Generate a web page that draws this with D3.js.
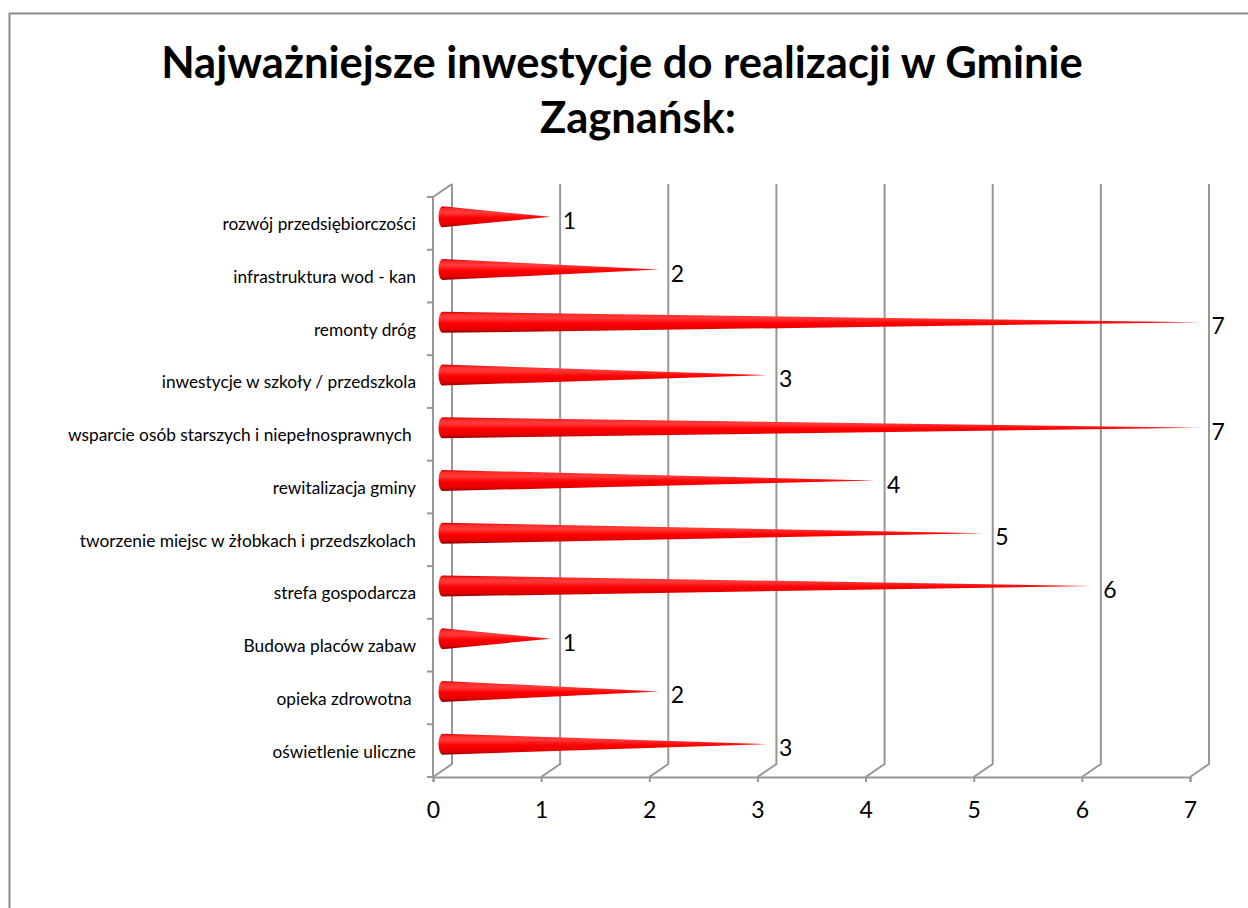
<!DOCTYPE html>
<html><head><meta charset="utf-8">
<script src="https://cdn.jsdelivr.net/npm/d3@7"></script>
<style>body{margin:0;background:#fff}svg{display:block}</style>
</head><body>
<script>
const categories = [
  "rozwój przedsiębiorczości",
  "infrastruktura wod - kan",
  "remonty dróg",
  "inwestycje w szkoły / przedszkola",
  "wsparcie osób starszych i niepełnosprawnych ",
  "rewitalizacja gminy",
  "tworzenie miejsc w żłobkach i przedszkolach",
  "strefa gospodarcza",
  "Budowa placów zabaw",
  "opieka zdrowotna ",
  "oświetlenie uliczne"
];
const values = [1, 2, 7, 3, 7, 4, 5, 6, 1, 2, 3];
const xTicks = [0, 1, 2, 3, 4, 5, 6, 7];
const titleLines = ["Najważniejsze inwestycje do realizacji w Gminie", "Zagnańsk:"];

const W = 1248, H = 908;
const font = "Lato, 'Open Sans', sans-serif";
const svg = d3.select("body").append("svg").attr("width", W).attr("height", H);

svg.append("rect").attr("x", 9.5).attr("y", 13.5).attr("width", 1400).attr("height", 1000)
  .attr("fill", "#fff").attr("stroke", "#8c8c8c").attr("stroke-width", 2);

// title
const title = svg.append("text").attr("text-anchor", "middle").attr("font-family", font)
  .attr("font-weight", "bold").attr("font-size", 43.5).attr("fill", "#000");
title.selectAll("tspan").data(titleLines).join("tspan")
  .attr("x", (d, i) => i === 0 ? 622 : 638).attr("y", (d, i) => i === 0 ? 78 : 133).text(d => d);

const x = d3.scaleLinear().domain([0, 7]).range([433, 1190]);
const y = d3.scaleBand().domain(categories).range([197, 777]);
const dx = 19, dy = -13;
const grid = "#979797";

const g = svg.append("g");
xTicks.forEach(t => {
  const fx = x(t);
  g.append("path").attr("d", `M${fx + dx},${197 + dy}V${777 + dy}L${fx},777`)
    .attr("fill", "none").attr("stroke", grid).attr("stroke-width", 2);
});
g.append("path").attr("d", `M${x(0) + dx},${197 + dy}L${x(0)},197V777`)
  .attr("fill", "none").attr("stroke", grid).attr("stroke-width", 2);

const bounds = categories.map(c => y(c)).concat([777]);
g.selectAll(".lt").data(bounds).join("line")
  .attr("x1", x(0) - 6).attr("x2", x(0)).attr("y1", d => d).attr("y2", d => d)
  .attr("stroke", grid).attr("stroke-width", 2);

const ax = svg.append("g").attr("transform", "translate(0,777)")
  .call(d3.axisBottom(x).tickValues(xTicks).tickFormat(d3.format("d")).tickSize(5).tickPadding(20));
ax.select(".domain").attr("stroke", grid).attr("stroke-width", 2);
ax.selectAll(".tick line").attr("stroke", grid).attr("stroke-width", 2);
ax.selectAll("text").attr("font-family", font).attr("font-size", 23).attr("fill", "#000");

const ay = svg.append("g").attr("transform", `translate(${x(0) - 17},0)`)
  .call(d3.axisLeft(y).tickSize(0).tickPadding(0));
ay.select(".domain").remove();
ay.selectAll("text").attr("font-family", font).attr("font-size", 17.3).attr("fill", "#000")
  .attr("dy", "0.4em").style("white-space", "pre");

const defs = svg.append("defs");
const grad = defs.append("linearGradient").attr("id", "cone").attr("x1", 0).attr("y1", 0).attr("x2", 0).attr("y2", 1);
[[0, "#c80000"], [0.12, "#ff2a2a"], [0.3, "#ff3a3a"], [0.55, "#ff0000"], [0.85, "#e00000"], [1, "#8a0000"]]
  .forEach(([o, c]) => grad.append("stop").attr("offset", o).attr("stop-color", c));

const r = 10.5, ex = 4;
const cones = svg.append("g");
categories.forEach((c, i) => {
  const cy = y(c) + y.bandwidth() / 2 + dy / 2;
  const bx = x(0) + dx / 2;
  const tx = x(values[i]) + dx / 2;
  cones.append("path")
    .attr("d", `M${bx},${cy - r}L${tx},${cy}L${bx},${cy + r}A${ex},${r} 0 0 1 ${bx},${cy - r}Z`)
    .attr("fill", "url(#cone)");
  svg.append("text").attr("x", tx + 12).attr("y", cy + 4).attr("dy", "0.35em")
    .attr("font-family", font).attr("font-size", 23).attr("fill", "#000").text(values[i]);
});
</script>
</body></html>
